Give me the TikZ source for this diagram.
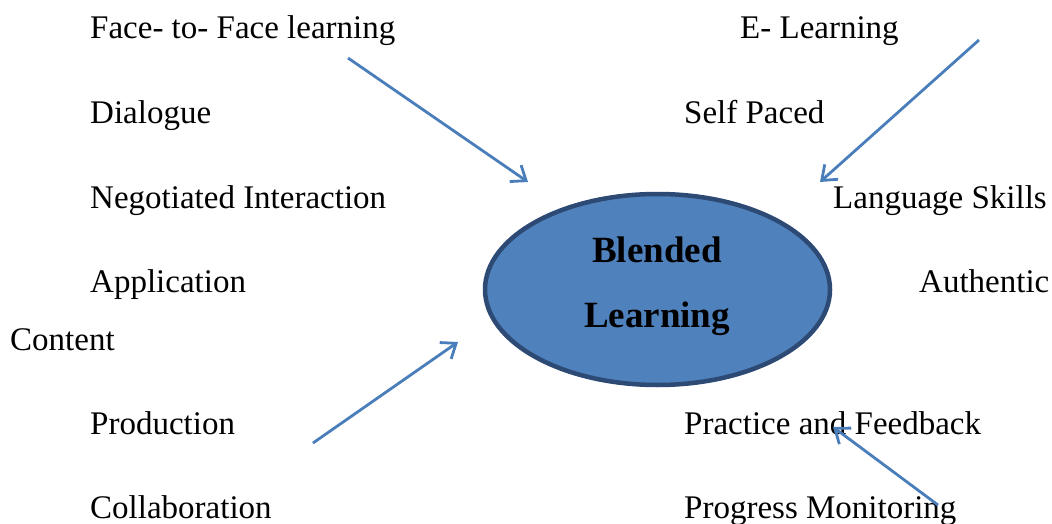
\documentclass[tikz,border=0pt]{standalone}
\usepackage{fontspec}
\setmainfont{Liberation Serif}
\usetikzlibrary{shapes.geometric,arrows.meta}
\definecolor{ellfill}{HTML}{4F81BD}
\definecolor{elldraw}{HTML}{2C4A74}
\definecolor{arrowblue}{HTML}{4A7EBB}
\begin{document}
\begin{tikzpicture}[x=1pt,y=-1pt,
  lbl/.style={anchor=base west, inner sep=0pt, font=\fontsize{33}{40}\selectfont},
  title/.style={anchor=base, inner sep=0pt, font=\fontsize{37}{44}\selectfont\bfseries},
  hub/.style={ellipse, draw=elldraw, fill=ellfill, line width=4.5pt, minimum width=345pt, minimum height=191pt, inner sep=0pt},
  conn/.style={draw=arrowblue, line width=2.8pt, -{Straight Barb[length=13pt,width=20pt]}}]
\useasboundingbox (0,0) rectangle (1052,524);
% left column
\node[lbl] (f2f) at (90,39) {Face- to- Face learning};
\node[lbl] (dia) at (90,123.5) {Dialogue};
\node[lbl] (neg) at (90,208) {Negotiated Interaction};
\node[lbl] (app) at (90,292) {Application};
\node[lbl] (con) at (10,350) {Content};
\node[lbl] (pro) at (90,434) {Production};
\node[lbl] (col) at (90,518.5) {Collaboration};
% right column
\node[lbl] (el) at (740,39) {E- Learning};
\node[lbl] (sp) at (684,123.5) {Self Paced};
\node[lbl] (ls) at (833,208) {Language Skills};
\node[lbl] (au) at (919,292) {Authentic};
\node[lbl] (pf) at (684,434) {Practice and Feedback};
\node[lbl] (pm) at (684,518.5) {Progress Monitoring};
% hub
\node[hub] (bl) at (657.5,289.5) {};
\node[title] (blt1) at (657,262) {Blended};
\node[title] (blt2) at (657,327) {Learning};
% arrows
\coordinate (a1s) at (348,58);  \coordinate (a1e) at (528,182);
\coordinate (a2s) at (979,40);  \coordinate (a2e) at (820,182);
\coordinate (a3s) at (313,443); \coordinate (a3e) at (458,342);
\coordinate (a4s) at (938,505); \coordinate (a4e) at (833,427);
\draw[conn] (a1s) -- (a1e);
\draw[conn] (a2s) -- (a2e);
\draw[conn] (a3s) -- (a3e);
\draw[conn] (a4s) -- (a4e);
\end{tikzpicture}
\end{document}
